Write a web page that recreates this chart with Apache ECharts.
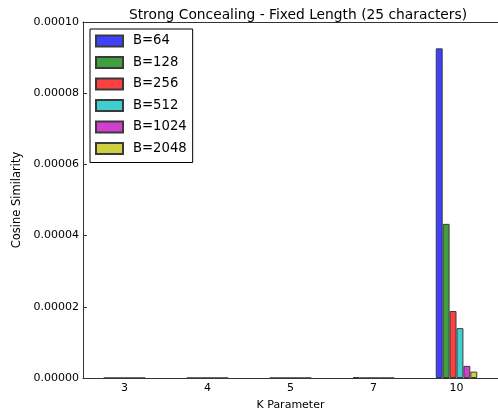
<!DOCTYPE html>
<html>
<head>
<meta charset="utf-8">
<script src="https://cdn.jsdelivr.net/npm/echarts@6/dist/echarts.min.js"></script>
<style>
  html, body { margin: 0; padding: 0; background: #fff; }
  #chart { width: 498px; height: 418px; }
</style>
</head>
<body>
<div id="chart"></div>
<script>
// K parameter categories
const categories = ['3', '4', '5', '7', '10'];

// Cosine similarity per block size B
const b64   = [0.00000001, 0.00000001, 0.00000001, 0.00000020, 0.0000926];
const b128  = [0.00000001, 0.00000001, 0.00000001, 0.00000001, 0.0000433];
const b256  = [0.00000001, 0.00000001, 0.00000001, 0.00000001, 0.0000188];
const b512  = [0.00000001, 0.00000001, 0.00000001, 0.00000001, 0.0000140];
const b1024 = [0.00000001, 0.00000001, 0.00000001, 0.00000001, 0.0000034];
const b2048 = [0.00000001, 0.00000001, 0.00000001, 0.00000001, 0.0000018];

const seriesNames = ['B=64', 'B=128', 'B=256', 'B=512', 'B=1024', 'B=2048'];
const seriesData = [b64, b128, b256, b512, b1024, b2048];
const colors = ['#4040ff', '#40a040', '#ff4040', '#40cfcf', '#cf40cf', '#cfcf40'];

const FONT = 'DejaVu Sans';

const chart = echarts.init(document.getElementById('chart'), null, { renderer: 'canvas' });

// Six bars per group, touching, filling half of each category band
const series = seriesNames.map((name, i) => ({
  name: name,
  type: 'bar',
  xAxisIndex: 0,
  data: seriesData[i],
  barGap: 0,
  barCategoryGap: '50%',
  itemStyle: {
    color: colors[i],
    borderColor: '#3a3a3a',
    borderWidth: 1
  },
  emphasis: { disabled: true }
}));

chart.setOption({
  animation: false,
  backgroundColor: '#ffffff',
  title: {
    text: 'Strong Concealing - Fixed Length (25 characters)',
    left: 293,
    textAlign: 'center',
    top: 3,
    textStyle: { fontFamily: FONT, fontSize: 13.8, fontWeight: 'normal', color: '#000' }
  },
  legend: {
    orient: 'vertical',
    left: 90,
    top: 29,
    padding: [4, 6, 6, 5],
    itemWidth: 27,
    itemHeight: 11,
    itemGap: 5.5,
    icon: 'rect',
    borderColor: '#000',
    borderWidth: 1,
    backgroundColor: '#fff',
    selectedMode: false,
    textStyle: { fontFamily: FONT, fontSize: 13.2, color: '#000', lineHeight: 16, padding: [0, 0, 0, 5] },
    data: seriesNames
  },
  grid: { left: 83, top: 22, right: -5, bottom: 40, containLabel: false },
  xAxis: [
    {
      type: 'category',
      data: categories,
      position: 'bottom',
      name: 'K Parameter',
      nameLocation: 'middle',
      nameGap: 22,
      nameTextStyle: { fontFamily: FONT, fontSize: 11, color: '#000' },
      axisLine: { lineStyle: { color: '#333', width: 1 } },
      axisTick: { inside: true, alignWithLabel: true, length: 4, lineStyle: { color: '#333' } },
      axisLabel: { fontFamily: FONT, fontSize: 11, color: '#000', margin: 5 },
      splitLine: { show: false }
    },
    {
      type: 'category',
      data: categories,
      position: 'top',
      axisLine: { lineStyle: { color: '#333', width: 1 } },
      axisTick: { inside: true, alignWithLabel: true, length: 4, lineStyle: { color: '#333' } },
      axisLabel: { show: false },
      splitLine: { show: false }
    }
  ],
  yAxis: {
    type: 'value',
    min: 0,
    max: 0.0001,
    interval: 0.00002,
    name: 'Cosine Similarity',
    nameLocation: 'middle',
    nameGap: 51,
    nameTextStyle: { fontFamily: FONT, fontSize: 11.5, color: '#000' },
    axisLine: { show: true, lineStyle: { color: '#333', width: 1 } },
    axisTick: { show: true, inside: true, length: 4, lineStyle: { color: '#333' } },
    axisLabel: {
      fontFamily: FONT, fontSize: 11, color: '#000', margin: 4,
      formatter: v => v.toFixed(5)
    },
    splitLine: { show: false }
  },
  series: series
});
</script>
</body>
</html>
